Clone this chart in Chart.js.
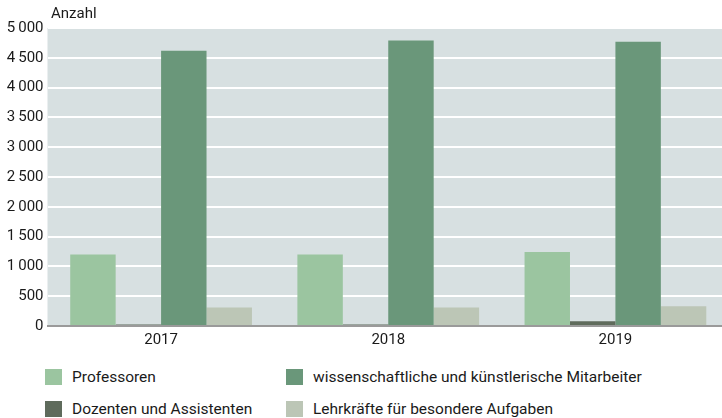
<!DOCTYPE html>
<html lang="de">
<head>
<meta charset="utf-8">
<script src="https://cdn.jsdelivr.net/npm/chart.js@4"></script>
<style>
  html, body { margin: 0; padding: 0; background: #fff; overflow: hidden; }
  body { width: 722px; height: 418px; position: relative; font-family: Roboto, sans-serif; color: #1a1a1a; }
  #wrap { position: absolute; left: 0; top: 0; width: 729px; height: 350px; }
  #unit { position: absolute; left: 51px; top: 4px; font-size: 15px; }
  .leg { position: absolute; font-size: 15.5px; line-height: 16px; }
  .leg span { position: absolute; left: 0; top: 0; width: 17px; height: 16px; }
  .leg b { font-weight: normal; position: absolute; left: 27px; top: 0; white-space: nowrap; }
</style>
</head>
<body>
<div id="wrap"><canvas id="chart" width="729" height="350"></canvas></div>
<div id="unit">Anzahl</div>
<div id="legend"></div>
<script>
// Data
const years = ['2017', '2018', '2019'];
const professoren = [1200, 1200, 1240];
const dozenten = [25, 25, 80];
const wissMitarbeiter = [4620, 4790, 4770];
const lehrkraefte = [310, 310, 330];
const yTicks = [0, 500, 1000, 1500, 2000, 2500, 3000, 3500, 4000, 4500, 5000];

const seriesNames = ['Professoren', 'Dozenten und Assistenten', 'wissenschaftliche und künstlerische Mitarbeiter', 'Lehrkräfte für besondere Aufgaben'];
const seriesColors = ['#9bc5a0', '#5f6b5c', '#6a977a', '#bcc6b6'];
const seriesData = [professoren, dozenten, wissMitarbeiter, lehrkraefte];

// plot background
const plotBg = {
    id: 'plotBg',
    beforeDraw(chart) {
        const a = chart.chartArea;
        const c = chart.ctx;
        c.save();
        c.fillStyle = '#d7e0e1';
        c.fillRect(a.left, a.top, a.right - a.left, a.bottom - a.top);
        c.restore();
    }
};

new Chart(document.getElementById('chart'), {
    type: 'bar',
    data: {
        labels: years,
        datasets: seriesNames.map((name, i) => ({
            label: name,
            data: seriesData[i],
            backgroundColor: seriesColors[i],
            borderWidth: 0,
            barPercentage: 1.0,
            categoryPercentage: 0.8
        }))
    },
    options: {
        responsive: false,
        animation: false,
        layout: { padding: { top: 28, left: 0, right: 0, bottom: 0 } },
        scales: {
            x: {
                grid: { display: false, drawTicks: false },
                border: { display: true, color: '#9a9a9a', width: 2 },
                ticks: { color: '#1a1a1a', font: { family: 'Roboto', size: 15 }, padding: 5 },
                afterFit: function(scale) { scale.height = 24; }
            },
            y: {
                min: 0,
                max: 5000,
                afterBuildTicks: function(scale) { scale.ticks = yTicks.map(v => ({ value: v })); },
                grid: { color: '#ffffff', lineWidth: 2, drawTicks: false },
                border: { display: false },
                ticks: {
                    color: '#1a1a1a',
                    font: { family: 'Roboto', size: 15 },
                    padding: 4,
                    callback: function(v) {
                        return v >= 1000 ? String(Math.floor(v / 1000)) + '\u2009' + String(v % 1000).padStart(3, '0') : String(v);
                    }
                },
                afterFit: function(scale) { scale.width = 47.5; }
            }
        },
        plugins: {
            legend: { display: false },
            tooltip: { enabled: false }
        }
    },
    plugins: [plotBg]
});

// Legend (2 columns)
const legendPos = [[45, 369], [45, 401], [286, 369], [286, 401]];
const legendEl = document.getElementById('legend');
seriesNames.forEach((name, i) => {
    const d = document.createElement('div');
    d.className = 'leg';
    d.style.left = legendPos[i][0] + 'px';
    d.style.top = legendPos[i][1] + 'px';
    d.innerHTML = '<span style="background:' + seriesColors[i] + '"></span><b>' + name + '</b>';
    legendEl.appendChild(d);
});
</script>
</body>
</html>
